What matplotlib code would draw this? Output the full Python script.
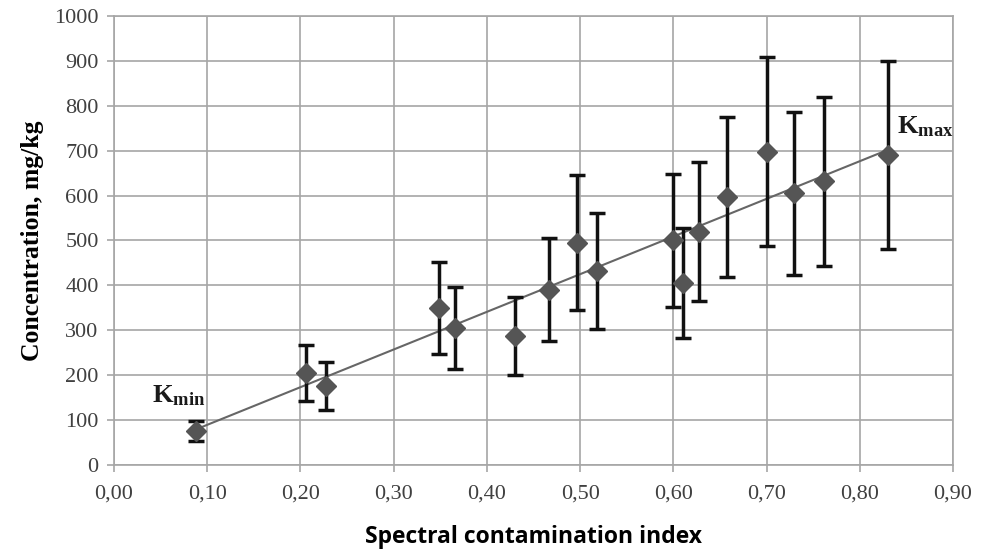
import matplotlib.pyplot as plt
import numpy as np

# spectral contamination index vs concentration
index_vals = [0.088, 0.206, 0.227, 0.349, 0.366, 0.430, 0.467, 0.497, 0.518,
              0.600, 0.610, 0.628, 0.658, 0.700, 0.729, 0.762, 0.830]
conc_vals = [75, 205, 176, 350, 305, 287, 390, 495, 432,
             500, 405, 519, 597, 698, 605, 632, 690]
conc_err = [22, 62, 53, 103, 92, 87, 115, 150, 130,
            148, 122, 155, 178, 210, 182, 188, 209]

x_ticks = np.arange(0, 0.91, 0.1)
x_tick_labels = ['0,00', '0,10', '0,20', '0,30', '0,40', '0,50', '0,60', '0,70', '0,80', '0,90']
y_ticks = np.arange(0, 1001, 100)

plt.rcParams['font.family'] = 'Liberation Serif'
plt.rcParams['mathtext.fontset'] = 'custom'
plt.rcParams['mathtext.rm'] = 'Liberation Serif'
plt.rcParams['mathtext.bf'] = 'Liberation Serif:bold'

fig = plt.figure(figsize=(9.85, 5.56), dpi=100)
ax = fig.add_axes([0.1157, 0.164, 0.8518, 0.807])

grid_col = '#a6a6a6'
ax.set_xlim(0, 0.9)
ax.set_ylim(0, 1000)
ax.set_xticks(x_ticks)
ax.set_xticklabels(x_tick_labels)
ax.set_yticks(y_ticks)
ax.grid(True, color=grid_col, linewidth=1.2)
ax.set_axisbelow(True)
for s in ax.spines.values():
    s.set_color(grid_col)
    s.set_linewidth(1.2)
ax.tick_params(axis='both', colors=grid_col, length=5, width=1.2,
               labelcolor='#404040', labelsize=16)
ax.tick_params(axis='x', pad=9)
ax.tick_params(axis='y', pad=6)

# linear trend through the data
k, b = np.polyfit(index_vals, conc_vals, 1)
xl = np.array([min(index_vals), max(index_vals)])
ax.plot(xl, k * xl + b, color='#666666', linewidth=1.5, zorder=2)

ax.errorbar(index_vals, conc_vals, yerr=conc_err, fmt='D', color='#555555',
            markersize=10, ecolor='#111111', elinewidth=2.5, capsize=6,
            capthick=2.5, zorder=3)

ax.text(0.041, 138, r'$\mathbf{K_{min}}$', fontsize=19, color='#1a1a1a')
ax.text(0.840, 739, r'$\mathbf{K_{max}}$', fontsize=19, color='#1a1a1a')

ax.set_ylabel('Concentration, mg/kg', fontsize=18.5, fontweight='bold',
              labelpad=7)
ax.set_xlabel('Spectral contamination index', fontsize=16.5, fontweight='bold',
              fontfamily='Open Sans', labelpad=16)

fig.savefig('out.png', dpi=100)
